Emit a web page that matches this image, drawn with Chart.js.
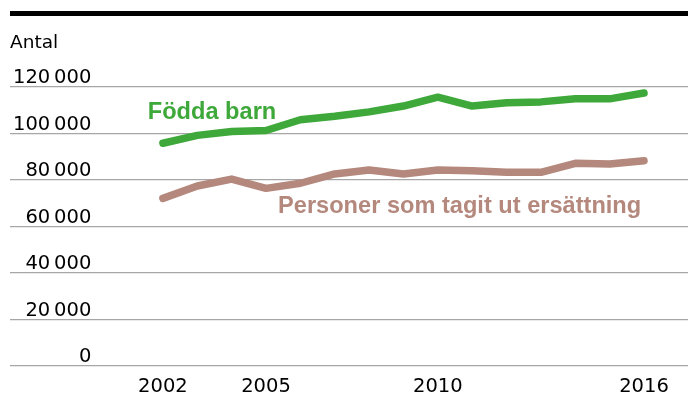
<!DOCTYPE html>
<html lang="sv">
<head>
<meta charset="utf-8">
<title>Födda barn och personer som tagit ut ersättning</title>
<script src="https://cdn.jsdelivr.net/npm/chart.js@4"></script>
<style>
  html, body { margin: 0; padding: 0; background: #fff; }
  #wrap { position: relative; width: 688px; height: 400px; }
</style>
</head>
<body>
<div id="wrap"><canvas id="chart"></canvas></div>
<script>
// ── Data ──────────────────────────────────────────────────────────────────────
const years      = [2002, 2003, 2004, 2005, 2006, 2007, 2008, 2009, 2010, 2011, 2012, 2013, 2014, 2015, 2016];
const births     = [95800, 99200, 100900, 101300, 105900, 107400, 109300, 111800, 115600, 111800, 113200, 113600, 114900, 114900, 117400];
const takenOut   = [72100, 77400, 80400, 76400, 78600, 82600, 84300, 82600, 84300, 84000, 83300, 83300, 87200, 86900, 88300];
const xTickYears = [2002, 2005, 2010, 2016];
const yTicks     = [0, 20000, 40000, 60000, 80000, 100000, 120000];

const GREEN = '#3EA93A';
const BROWN = '#B4887C';
const TICK_FONT = { family: "'DejaVu Sans', sans-serif", size: 19.5 };

// thousands with a thin space: 120 000
const fmt = v => String(v).replace(/\B(?=(\d{3})+(?!\d))/g, '\u2009');

// ── Series labels, anchored in data space ───────────────────────────────────
const seriesLabels = [
  { text: 'Födda barn',                       color: GREEN, x: 2001.56, y: 106200 },
  { text: 'Personer som tagit ut ersättning', color: BROWN, x: 2005.35, y: 65700 },
];

const decorPlugin = {
  id: 'decor',
  beforeDraw(chart) {
    const { ctx } = chart;
    ctx.save();
    ctx.fillStyle = '#000';
    ctx.fillRect(10, 11, 678, 5);
    ctx.font = "18.5px 'DejaVu Sans', sans-serif";
    ctx.textBaseline = 'alphabetic';
    ctx.textAlign = 'left';
    ctx.fillText('Antal', 10, 47.5);
    ctx.restore();
  },
  afterDatasetsDraw(chart) {
    const { ctx, scales: { x, y } } = chart;
    ctx.save();
    ctx.font = "bold 23.6px 'Liberation Sans', Arial, sans-serif";
    ctx.textBaseline = 'alphabetic';
    ctx.textAlign = 'left';
    seriesLabels.forEach(l => {
      ctx.fillStyle = l.color;
      ctx.fillText(l.text, x.getPixelForValue(l.x), y.getPixelForValue(l.y));
    });
    ctx.restore();
  },
};

const lineStyle = {
  borderWidth: 7.5,
  pointRadius: 0,
  tension: 0,
  borderCapStyle: 'round',
  borderJoinStyle: 'round',
  clip: false,
};

new Chart(document.getElementById('chart'), {
  type: 'line',
  data: {
    datasets: [
      { label: 'Födda barn', data: years.map((yr, i) => ({ x: yr, y: births[i] })),
        borderColor: GREEN, ...lineStyle },
      { label: 'Personer som tagit ut ersättning', data: years.map((yr, i) => ({ x: yr, y: takenOut[i] })),
        borderColor: BROWN, ...lineStyle },
    ],
  },
  options: {
    responsive: true,
    maintainAspectRatio: false,
    animation: false,
    layout: { padding: { left: 10, right: 0, top: 87, bottom: 0 } },
    plugins: { legend: { display: false }, tooltip: { enabled: false } },
    scales: {
      x: {
        type: 'linear',
        min: 1997.55,
        max: 2017.28,
        afterBuildTicks: s => { s.ticks = xTickYears.map(v => ({ value: v })); },
        afterFit: s => { s.height = 34; },
        grid: { display: false, drawTicks: false },
        border: { display: false },
        ticks: { color: '#000', font: TICK_FONT, padding: 9, autoSkip: false, maxRotation: 0,
                 callback: v => String(v) },
      },
      y: {
        min: 0,
        max: 120000,
        afterBuildTicks: s => { s.ticks = yTicks.map(v => ({ value: v })); },
        afterFit: s => { s.width = 0; },
        grid: { color: '#a6a6a6', lineWidth: 1.3, drawTicks: false },
        border: { display: false },
        ticks: { color: '#000', font: TICK_FONT, mirror: true, crossAlign: 'far',
                 padding: 3, labelOffset: -9, callback: v => fmt(v) },
      },
    },
  },
  plugins: [decorPlugin],
});
</script>
</body>
</html>
